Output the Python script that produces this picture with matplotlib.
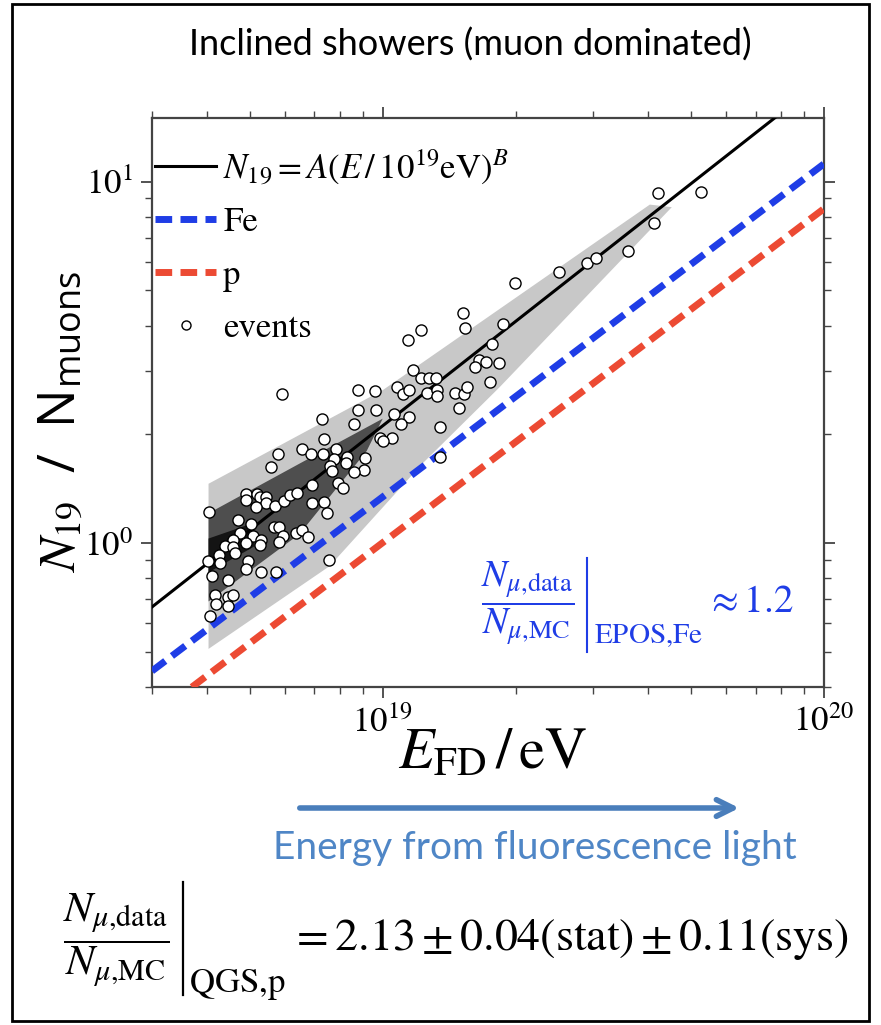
import numpy as np
import matplotlib.pyplot as plt
from matplotlib.patches import Rectangle, FancyArrowPatch
from matplotlib.lines import Line2D
from matplotlib.ticker import LogLocator, NullFormatter

# -----------------------------
# DATA
# -----------------------------

# events: energy in units of 1e18 eV, N19
event_E18 = [42.0, 52.6, 41.1, 35.9, 29.0, 30.4, 25.1, 19.9, 15.2, 15.4,
             18.7, 12.2, 11.4, 17.7, 16.5, 16.2, 17.1, 18.3, 17.5, 11.7,
             12.2, 12.7, 13.2, 10.8, 11.1, 11.5, 12.6, 13.3, 13.3, 14.6,
             15.3, 15.5, 14.9, 13.5, 10.6, 11.5, 11.0, 9.84, 10.5, 10.0,
             13.5, 5.90, 8.77, 9.59, 8.81, 9.68, 8.63, 7.27, 7.38, 5.78,
             5.57, 6.58, 6.87, 7.31, 7.82, 7.74, 8.28, 8.24, 7.58, 7.66,
             9.10, 9.05, 8.59, 7.90, 8.11, 6.90, 6.90, 7.35, 7.46, 7.54,
             4.91, 4.89, 5.20, 5.28, 5.45, 5.43, 5.71, 5.96, 6.15, 6.38,
             5.17, 4.03, 4.69, 5.04, 5.66, 5.83, 5.93, 5.81, 6.35, 6.55,
             6.76, 5.07, 5.31, 5.26, 4.74, 4.59, 4.89, 4.40, 4.59, 4.62,
             4.25, 4.27, 4.01, 4.11, 4.47, 4.94, 4.91, 5.31, 5.74, 4.16,
             4.20, 4.45, 4.59, 4.45, 4.07]
event_N = [9.33, 9.38, 7.70, 6.41, 5.97, 6.13, 5.64, 5.26, 4.32, 3.93,
           4.05, 3.88, 3.64, 3.55, 3.22, 3.08, 3.18, 3.16, 2.79, 3.01,
           2.86, 2.86, 2.87, 2.70, 2.58, 2.66, 2.61, 2.65, 2.56, 2.61,
           2.58, 2.71, 2.36, 2.09, 2.27, 2.23, 2.13, 1.95, 1.95, 1.92,
           1.73, 2.58, 2.65, 2.63, 2.34, 2.33, 2.14, 2.20, 1.94, 1.77,
           1.62, 1.82, 1.76, 1.76, 1.82, 1.71, 1.73, 1.67, 1.63, 1.58,
           1.72, 1.59, 1.57, 1.47, 1.42, 1.45, 1.29, 1.30, 1.21, 0.90,
           1.37, 1.32, 1.37, 1.34, 1.34, 1.29, 1.27, 1.31, 1.36, 1.38,
           1.26, 1.22, 1.16, 1.13, 1.11, 1.11, 1.05, 1.01, 1.07, 1.09,
           1.04, 1.05, 1.02, 0.99, 1.07, 1.02, 1.00, 0.98, 0.975, 0.94,
           0.93, 0.88, 0.89, 0.81, 0.79, 0.89, 0.85, 0.83, 0.83, 0.72,
           0.68, 0.71, 0.72, 0.67, 0.63]

# fit and model lines (end points, E in eV)
fit_E = [3e18, 1e20]
fit_N = [0.666, 19.2]
fe_E = [3e18, 1e20]
fe_N = [0.443, 11.2]
p_E = [3e18, 1e20]
p_N = [0.33, 8.42]

# outer (light) uncertainty band, E in 1e18 eV
band_up_E18 = [4.03, 10.0, 40.3, 45.2]
band_up_N = [1.46, 2.65, 8.64, 8.5]
band_lo_E18 = [4.03, 7.58, 12.3, 18.4, 45.2]
band_lo_N = [0.51, 0.864, 1.66, 2.70, 8.5]

# inner (dark) band
dark_up_E18 = [4.03, 6.48, 10.0]
dark_up_N = [1.21, 1.66, 2.21]
dark_lo_E18 = [4.03, 6.48, 9.2, 10.0]
dark_lo_N = [0.69, 1.06, 1.80, 2.21]

# innermost (black) band
core_up_E18 = [4.03, 5.12]
core_up_N = [1.03, 1.14]
core_lo_E18 = [4.03, 5.12]
core_lo_N = [0.83, 0.98]

# -----------------------------
# STYLE
# -----------------------------
plt.rcParams['font.family'] = ['STIXGeneral', 'DejaVu Serif']
plt.rcParams['mathtext.fontset'] = 'stix'
plt.rcParams['lines.scale_dashes'] = False

BLUE = '#1f3de6'
RED = '#ec4a33'
ARROW = '#4a7ebb'
DASH = (12, 6)
W, H = 881, 1025

fig = plt.figure(figsize=(W / 100, H / 100), dpi=100)
ax = fig.add_axes([0.1725, 0.3297, 0.7628, 0.5552])


def fpos(x, y):
    # pixel position in the picture -> figure fraction
    return x / W, 1 - y / H


def band(ax, up_e, up_n, lo_e, lo_n, color):
    e = np.r_[np.array(up_e), np.array(lo_e)[::-1]] * 1e18
    n = np.r_[np.array(up_n), np.array(lo_n)[::-1]]
    ax.fill(e, n, color=color, lw=0, zorder=1)


band(ax, band_up_E18, band_up_N, band_lo_E18, band_lo_N, '#c8c8c8')
band(ax, dark_up_E18, dark_up_N, dark_lo_E18, dark_lo_N, '#4e4e4e')
band(ax, core_up_E18, core_up_N, core_lo_E18, core_lo_N, '#141414')

ax.plot(fit_E, fit_N, color='black', lw=2.2, zorder=3)
ax.plot(fe_E, fe_N, color=BLUE, lw=5, dashes=DASH, zorder=3)
ax.plot(p_E, p_N, color=RED, lw=5, dashes=DASH, zorder=3)
ax.plot(np.array(event_E18) * 1e18, event_N, 'o', ms=8, mfc='white',
        mec='black', mew=1.0, zorder=4)

ax.set_xscale('log')
ax.set_yscale('log')
ax.set_xlim(3e18, 1e20)
ax.set_ylim(0.4, 15)

for a in (ax.xaxis, ax.yaxis):
    a.set_major_locator(LogLocator(base=10, numticks=10))
    a.set_minor_locator(LogLocator(base=10, subs=np.arange(2, 10), numticks=20))
    a.set_minor_formatter(NullFormatter())
ax.tick_params(which='both', direction='out', top=True, right=True,
               color='#444444', labelsize=25, pad=6)
ax.tick_params(which='major', length=8, width=1.3)
ax.tick_params(which='minor', length=5, width=1.0)
for s in ax.spines.values():
    s.set_color('#444444')
    s.set_linewidth(1.6)

# legend
handles = [Line2D([], [], color='black', lw=2.2),
           Line2D([], [], color=BLUE, lw=5, dashes=DASH),
           Line2D([], [], color=RED, lw=5, dashes=DASH),
           Line2D([], [], ls='none', marker='o', ms=6.5, mfc='white',
                  mec='black', mew=1.0)]
labels = [r'$N_{19} = A(E\,/\,10^{19}\mathrm{eV})^{B}$', 'Fe', 'p', 'events']
ax.legend(handles, labels, loc='upper left', bbox_to_anchor=(0.0, 0.955),
          frameon=False, fontsize=25, handlelength=1.75, handletextpad=0.2,
          labelspacing=0.6, borderaxespad=0.0, borderpad=0.1)

# ratio annotation (EPOS, Fe) inside the plot
fig.text(*fpos(528, 603), r'$\dfrac{N_{\mu{,}\mathrm{data}}}{N_{\mu{,}\mathrm{MC}}}$',
         color=BLUE, fontsize=27, ha='center', va='center')
fig.add_artist(Line2D([587 / W, 587 / W], [1 - 558 / H, 1 - 652 / H],
                      color=BLUE, lw=1.5))
fig.text(*fpos(594, 636), r'$\mathrm{EPOS{,}Fe}$', color=BLUE, fontsize=21,
         ha='left', va='center')
fig.text(*fpos(706, 603), r'$\approx 1.2$', color=BLUE, fontsize=28,
         ha='left', va='center')

# -----------------------------
# FIGURE TEXTS
# -----------------------------
fig.text(*fpos(470, 45), 'Inclined showers (muon dominated)',
         family='Lato', fontsize=26, ha='center', va='center')
fig.text(*fpos(62, 422), r'$N_{19}$  /  N$_{\mathregular{muons}}$',
         family='Open Sans', fontsize=37, rotation=90,
         ha='center', va='center')
fig.text(*fpos(493, 755), r'$E_{\mathrm{FD}}\,/\,\mathrm{eV}$', fontsize=42,
         ha='center', va='center')

arrow = FancyArrowPatch(fpos(297, 808), fpos(742, 808),
                        transform=fig.transFigure, arrowstyle='->',
                        mutation_scale=30, color=ARROW, lw=4)
fig.patches.append(arrow)
fig.text(*fpos(535, 848), 'Energy from fluorescence light', family='Lato',
         fontsize=28, color='#4f86c6', ha='center', va='center')

# ratio result (QGS, p) below the plot
fig.text(*fpos(116, 940), r'$\dfrac{N_{\mu{,}\mathrm{data}}}{N_{\mu{,}\mathrm{MC}}}$',
         fontsize=31, ha='center', va='center')
fig.add_artist(Line2D([183 / W, 183 / W], [1 - 882 / H, 1 - 995 / H],
                      color='black', lw=1.6))
fig.text(*fpos(189, 985), r'$\mathrm{QGS{,}p}$', fontsize=25,
         ha='left', va='center')
fig.text(*fpos(290, 940),
         r'$= 2.13 \pm 0.04(\mathrm{stat}) \pm 0.11(\mathrm{sys})$',
         fontsize=33, ha='left', va='center')

fig.patches.append(Rectangle((0.014, 0.004), 0.972, 0.992,
                             transform=fig.transFigure, fill=False,
                             lw=2, ec='black'))

plt.savefig('out.png', dpi=100)
